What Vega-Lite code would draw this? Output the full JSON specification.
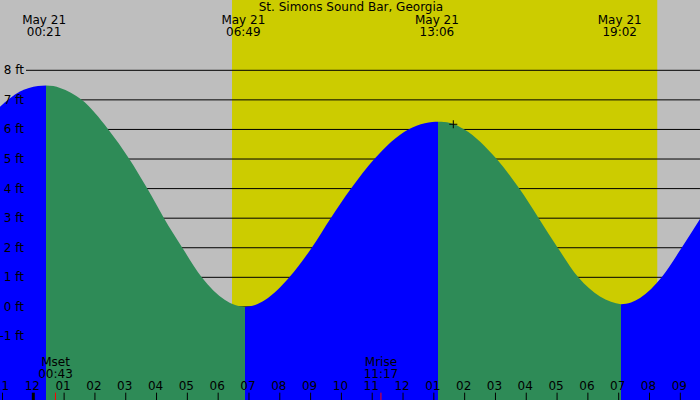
{
  "$schema": "https://vega.github.io/schema/vega-lite/v6.json",
  "width": 700,
  "height": 400,
  "padding": 0,
  "autosize": {"type": "none"},
  "background": "#bebebe",
  "datasets": {
    "bands": [
      {"start": -1.081, "end": 6.45, "kind": "night"},
      {"start": 6.45, "end": 20.26, "kind": "day"},
      {"start": 20.26, "end": 21.639, "kind": "night"}
    ],
    "levels": [
      {"ft": 8, "label": "8 ft"},
      {"ft": 7, "label": "7 ft"},
      {"ft": 6, "label": "6 ft"},
      {"ft": 5, "label": "5 ft"},
      {"ft": 4, "label": "4 ft"},
      {"ft": 3, "label": "3 ft"},
      {"ft": 2, "label": "2 ft"},
      {"ft": 1, "label": "1 ft"},
      {"ft": 0, "label": "0 ft"},
      {"ft": -1, "label": "-1 ft"}
    ],
    "tide": [
      {"h": -1.081, "ft": 6.77, "seg": "a", "kind": "rise"},
      {"h": -0.432, "ft": 7.28, "seg": "a", "kind": "rise"},
      {"h": 0.15, "ft": 7.47, "seg": "a", "kind": "rise"},
      {"h": 0.412, "ft": 7.49, "seg": "a", "kind": "rise"},
      {"h": 0.412, "ft": 7.49, "seg": "b", "kind": "fall"},
      {"h": 0.65, "ft": 7.465, "seg": "b", "kind": "fall"},
      {"h": 0.867, "ft": 7.4, "seg": "b", "kind": "fall"},
      {"h": 1.571, "ft": 7.0, "seg": "b", "kind": "fall"},
      {"h": 2.434, "ft": 6.0, "seg": "b", "kind": "fall"},
      {"h": 3.116, "ft": 5.0, "seg": "b", "kind": "fall"},
      {"h": 3.7, "ft": 4.0, "seg": "b", "kind": "fall"},
      {"h": 4.242, "ft": 3.0, "seg": "b", "kind": "fall"},
      {"h": 4.836, "ft": 2.0, "seg": "b", "kind": "fall"},
      {"h": 5.466, "ft": 1.0, "seg": "b", "kind": "fall"},
      {"h": 6.222, "ft": 0.23, "seg": "b", "kind": "fall"},
      {"h": 6.55, "ft": 0.06, "seg": "b", "kind": "fall"},
      {"h": 6.871, "ft": 0.0, "seg": "b", "kind": "fall"},
      {"h": 6.871, "ft": 0.0, "seg": "c", "kind": "rise"},
      {"h": 7.2, "ft": 0.06, "seg": "c", "kind": "rise"},
      {"h": 7.52, "ft": 0.23, "seg": "c", "kind": "rise"},
      {"h": 8.309, "ft": 1.0, "seg": "c", "kind": "rise"},
      {"h": 9.036, "ft": 2.0, "seg": "c", "kind": "rise"},
      {"h": 9.653, "ft": 3.0, "seg": "c", "kind": "rise"},
      {"h": 10.312, "ft": 4.0, "seg": "c", "kind": "rise"},
      {"h": 11.068, "ft": 5.0, "seg": "c", "kind": "rise"},
      {"h": 12.171, "ft": 6.0, "seg": "c", "kind": "rise"},
      {"h": 12.71, "ft": 6.21, "seg": "c", "kind": "rise"},
      {"h": 12.95, "ft": 6.25, "seg": "c", "kind": "rise"},
      {"h": 13.135, "ft": 6.26, "seg": "c", "kind": "rise"},
      {"h": 13.135, "ft": 6.26, "seg": "d", "kind": "fall"},
      {"h": 13.33, "ft": 6.25, "seg": "d", "kind": "fall"},
      {"h": 13.525, "ft": 6.22, "seg": "d", "kind": "fall"},
      {"h": 13.99, "ft": 6.0, "seg": "d", "kind": "fall"},
      {"h": 15.04, "ft": 5.0, "seg": "d", "kind": "fall"},
      {"h": 15.774, "ft": 4.0, "seg": "d", "kind": "fall"},
      {"h": 16.404, "ft": 3.0, "seg": "d", "kind": "fall"},
      {"h": 17.021, "ft": 2.0, "seg": "d", "kind": "fall"},
      {"h": 17.69, "ft": 1.0, "seg": "d", "kind": "fall"},
      {"h": 18.393, "ft": 0.35, "seg": "d", "kind": "fall"},
      {"h": 18.75, "ft": 0.17, "seg": "d", "kind": "fall"},
      {"h": 19.075, "ft": 0.09, "seg": "d", "kind": "fall"},
      {"h": 19.075, "ft": 0.09, "seg": "e", "kind": "rise"},
      {"h": 19.4, "ft": 0.15, "seg": "e", "kind": "rise"},
      {"h": 19.692, "ft": 0.3, "seg": "e", "kind": "rise"},
      {"h": 20.395, "ft": 1.0, "seg": "e", "kind": "rise"},
      {"h": 21.044, "ft": 2.0, "seg": "e", "kind": "rise"},
      {"h": 21.639, "ft": 2.97, "seg": "e", "kind": "rise"}
    ],
    "hours": [
      {"h": -1, "label": "11", "kind": "tick"},
      {"h": 0, "label": "12", "kind": "midnight"},
      {"h": 1, "label": "01", "kind": "tick"},
      {"h": 2, "label": "02", "kind": "tick"},
      {"h": 3, "label": "03", "kind": "tick"},
      {"h": 4, "label": "04", "kind": "tick"},
      {"h": 5, "label": "05", "kind": "tick"},
      {"h": 6, "label": "06", "kind": "tick"},
      {"h": 7, "label": "07", "kind": "tick"},
      {"h": 8, "label": "08", "kind": "tick"},
      {"h": 9, "label": "09", "kind": "tick"},
      {"h": 10, "label": "10", "kind": "tick"},
      {"h": 11, "label": "11", "kind": "tick"},
      {"h": 12, "label": "12", "kind": "tick"},
      {"h": 13, "label": "01", "kind": "tick"},
      {"h": 14, "label": "02", "kind": "tick"},
      {"h": 15, "label": "03", "kind": "tick"},
      {"h": 16, "label": "04", "kind": "tick"},
      {"h": 17, "label": "05", "kind": "tick"},
      {"h": 18, "label": "06", "kind": "tick"},
      {"h": 19, "label": "07", "kind": "tick"},
      {"h": 20, "label": "08", "kind": "tick"},
      {"h": 21, "label": "09", "kind": "tick"}
    ],
    "moon": [
      {"h": 0.72, "label": "Mset\n00:43", "kind": "moon"},
      {"h": 11.283, "label": "Mrise\n11:17", "kind": "moon"}
    ],
    "extremes": [
      {"h": 0.35, "label": "May 21\n00:21"},
      {"h": 6.817, "label": "May 21\n06:49"},
      {"h": 13.1, "label": "May 21\n13:06"},
      {"h": 19.033, "label": "May 21\n19:02"}
    ],
    "now": [
      {"h": 13.632, "ft": 6.175}
    ]
  },
  "layer": [
    {
      "data": {"name": "bands"},
      "mark": {"type": "rect"},
      "encoding": {
        "x": {"field": "start", "type": "quantitative", "scale": {"domain": [-1.081, 21.639], "nice": false, "zero": false}, "axis": null},
        "x2": {"field": "end"},
        "color": {"field": "kind", "type": "nominal", "legend": null,
          "scale": {"domain": ["night", "day", "rise", "fall", "tick", "midnight", "moon"],
                    "range": ["#bebebe", "#cccc00", "#0000ff", "#2e8b57", "#000000", "#000000", "#ff0000"]}}
      }
    },
    {
      "data": {"name": "levels"},
      "mark": {"type": "rule", "color": "#000000", "strokeWidth": 1},
      "encoding": {
        "y": {"field": "ft", "type": "quantitative", "scale": {"domain": [-3.148, 10.377], "nice": false, "zero": false}, "axis": null},
        "x": {"datum": -0.237, "type": "quantitative"},
        "x2": {"datum": 21.639}
      }
    },
    {
      "data": {"name": "tide"},
      "mark": {"type": "area", "interpolate": "monotone"},
      "encoding": {
        "x": {"field": "h", "type": "quantitative"},
        "y": {"field": "ft", "type": "quantitative", "stack": null},
        "y2": {"datum": -3.2},
        "color": {"field": "kind", "type": "nominal", "legend": null},
        "detail": {"field": "seg"}
      }
    },
    {
      "data": {"name": "levels"},
      "mark": {"type": "text", "align": "right", "baseline": "middle", "font": "DejaVu Sans", "fontSize": 12, "color": "#000000"},
      "encoding": {
        "x": {"datum": -0.302, "type": "quantitative"},
        "y": {"field": "ft", "type": "quantitative"},
        "text": {"field": "label"}
      }
    },
    {
      "data": {"name": "hours"},
      "mark": {"type": "rule"},
      "encoding": {
        "x": {"field": "h", "type": "quantitative"},
        "y": {"datum": -2.9, "type": "quantitative"},
        "y2": {"datum": -3.2},
        "color": {"field": "kind", "type": "nominal", "legend": null},
        "strokeWidth": {"field": "kind", "type": "nominal", "legend": null,
          "scale": {"domain": ["tick", "midnight"], "range": [1, 3]}}
      }
    },
    {
      "data": {"name": "moon"},
      "mark": {"type": "rule", "strokeWidth": 1},
      "encoding": {
        "x": {"field": "h", "type": "quantitative"},
        "y": {"datum": -2.9, "type": "quantitative"},
        "y2": {"datum": -3.2},
        "color": {"field": "kind", "type": "nominal", "legend": null}
      }
    },
    {
      "data": {"name": "hours"},
      "mark": {"type": "text", "align": "center", "baseline": "alphabetic", "dx": -1, "font": "DejaVu Sans", "fontSize": 12, "color": "#000000"},
      "encoding": {
        "x": {"field": "h", "type": "quantitative"},
        "y": {"datum": -2.81, "type": "quantitative"},
        "text": {"field": "label"}
      }
    },
    {
      "data": {"name": "moon"},
      "mark": {"type": "text", "align": "center", "baseline": "alphabetic", "lineBreak": "\n", "lineHeight": 12, "font": "DejaVu Sans", "fontSize": 12, "color": "#000000"},
      "encoding": {
        "x": {"field": "h", "type": "quantitative"},
        "y": {"datum": -2.0, "type": "quantitative"},
        "text": {"field": "label"}
      }
    },
    {
      "data": {"name": "extremes"},
      "mark": {"type": "text", "align": "center", "baseline": "alphabetic", "lineBreak": "\n", "lineHeight": 12, "font": "DejaVu Sans", "fontSize": 12, "color": "#000000"},
      "encoding": {
        "x": {"field": "h", "type": "quantitative"},
        "y": {"datum": 9.566, "type": "quantitative"},
        "text": {"field": "label"}
      }
    },
    {
      "data": {"name": "now"},
      "mark": {"type": "point", "shape": "M-1,0H1M0,-1V1", "filled": false, "stroke": "#000000", "strokeWidth": 1, "size": 64, "opacity": 1},
      "encoding": {
        "x": {"field": "h", "type": "quantitative"},
        "y": {"field": "ft", "type": "quantitative"}
      }
    },
    {
      "data": {"values": [{"title": "St. Simons Sound Bar, Georgia"}]},
      "mark": {"type": "text", "align": "center", "baseline": "alphabetic", "font": "DejaVu Sans", "fontSize": 12, "color": "#000000"},
      "encoding": {
        "x": {"datum": 10.31, "type": "quantitative"},
        "y": {"datum": 10.016, "type": "quantitative"},
        "text": {"field": "title"}
      }
    }
  ],
  "config": {"view": {"stroke": null}}
}
